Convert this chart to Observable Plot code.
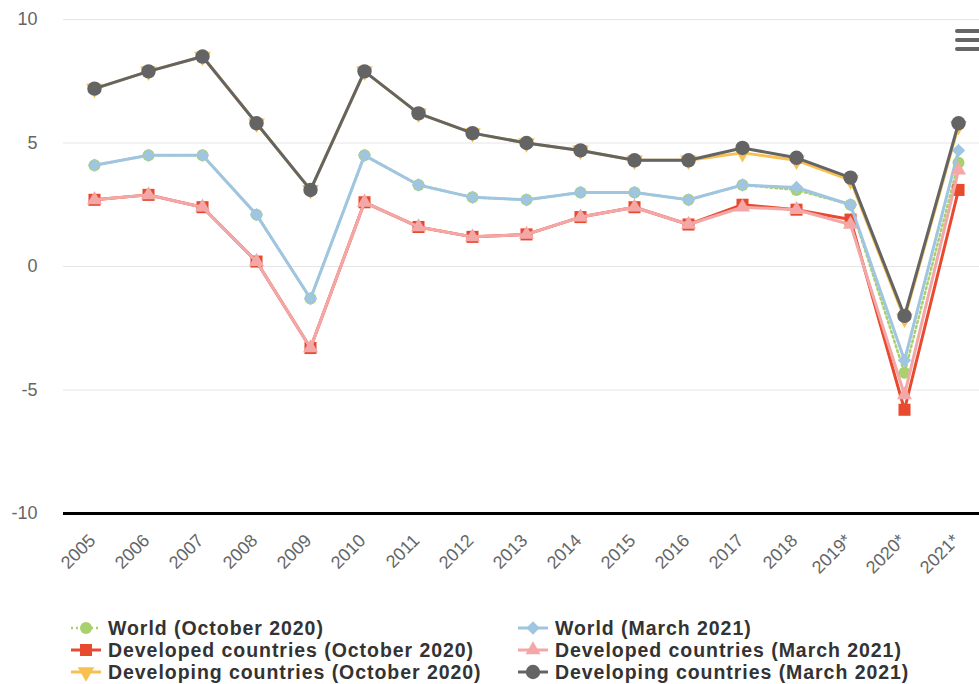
<!DOCTYPE html>
<html>
<head>
<meta charset="utf-8">
<script src="https://cdn.jsdelivr.net/npm/d3@7"></script>
<script src="https://cdn.jsdelivr.net/npm/@observablehq/plot@0.6"></script>
<style>
  html, body { margin: 0; padding: 0; background: #fff; }
  #wrap { position: relative; width: 979px; height: 684px; overflow: hidden; font-family: "Liberation Sans", Arial, sans-serif; }
  #chart { position: absolute; left: 0; top: 0; }
  .leg { position: absolute; height: 22px; line-height: 22px; font-weight: bold; font-size: 19.5px; letter-spacing: 0.95px; color: #333; white-space: nowrap; }
  .leg svg { position: absolute; left: 0; top: 0; }
  .leg span { position: absolute; left: 38px; top: 0; }
  #menu { position: absolute; left: 955px; top: 29px; width: 28px; }
  #menu div { height: 4px; border-radius: 2px; background: #666; margin-bottom: 5px; }
</style>
</head>
<body>
<div id="wrap">
  <div id="chart"></div>
  <div id="legend"></div>
  <div id="menu"><div></div><div></div><div></div></div>
</div>
<script>
// ---- data ----
const years = ["2005","2006","2007","2008","2009","2010","2011","2012","2013","2014","2015","2016","2017","2018","2019*","2020*","2021*"];
const worldOct2020      = [4.1, 4.5, 4.5, 2.1, -1.3, 4.5, 3.3, 2.8, 2.7, 3.0, 3.0, 2.7, 3.3, 3.1, 2.5, -4.3, 4.2];
const developedOct2020  = [2.7, 2.9, 2.4, 0.2, -3.3, 2.6, 1.6, 1.2, 1.3, 2.0, 2.4, 1.7, 2.5, 2.3, 1.9, -5.8, 3.1];
const developingOct2020 = [7.2, 7.9, 8.5, 5.8, 3.1, 7.9, 6.2, 5.4, 5.0, 4.7, 4.3, 4.3, 4.6, 4.3, 3.5, -2.1, 5.7];
const worldMar2021      = [4.1, 4.5, 4.5, 2.1, -1.3, 4.5, 3.3, 2.8, 2.7, 3.0, 3.0, 2.7, 3.3, 3.2, 2.5, -3.8, 4.7];
const developedMar2021  = [2.7, 2.9, 2.4, 0.2, -3.3, 2.6, 1.6, 1.2, 1.3, 2.0, 2.4, 1.7, 2.4, 2.3, 1.7, -5.2, 3.9];
const developingMar2021 = [7.2, 7.9, 8.5, 5.8, 3.1, 7.9, 6.2, 5.4, 5.0, 4.7, 4.3, 4.3, 4.8, 4.4, 3.6, -2.0, 5.8];
const yTicks = [-10, -5, 0, 5, 10];
const seriesNames = [
  "World (October 2020)", "Developed countries (October 2020)", "Developing countries (October 2020)",
  "World (March 2021)", "Developed countries (March 2021)", "Developing countries (March 2021)"
];

// ---- styling ----
const triDown = {
  draw(context, size) {
    const s3 = Math.sqrt(3);
    const y = Math.sqrt(size / (s3 * 3));
    context.moveTo(0, y * 2);
    context.lineTo(-s3 * y, -y);
    context.lineTo(s3 * y, -y);
    context.closePath();
  }
};
const symbolMap = {circle: d3.symbolCircle, square: d3.symbolSquare, triangle: d3.symbolTriangle, diamond2: d3.symbolDiamond2};
const seriesValues = [worldOct2020, developedOct2020, developingOct2020, worldMar2021, developedMar2021, developingMar2021];
const styles = [
  {color: "#a8d06c", width: 2.5, dash: "2,3", symbol: "circle", r: 6},
  {color: "#e84a2f", width: 3, dash: null, symbol: "square", r: 6.8},
  {color: "#f8c050", width: 3, dash: null, symbol: triDown, r: 6.2},
  {color: "#9fc5e0", width: 3, dash: null, symbol: "diamond2", r: 6},
  {color: "#f4a7a7", width: 3, dash: null, symbol: "triangle", r: 5.6},
  {color: "#646464", width: 3, dash: null, symbol: "circle", r: 7.2}
];

const seriesMarks = seriesValues.flatMap((vals, i) => {
  const rows = years.map((year, j) => ({year, value: vals[j]}));
  const st = styles[i];
  return [
    Plot.line(rows, {x: "year", y: "value", stroke: st.color, strokeWidth: st.width, strokeDasharray: st.dash, strokeLinejoin: "round", strokeLinecap: "round"}),
    Plot.dot(rows, {x: "year", y: "value", fill: st.color, r: st.r, symbol: typeof st.symbol === "string" ? symbolMap[st.symbol] : st.symbol})
  ];
});

const chart = Plot.plot({
  width: 979,
  height: 600,
  marginLeft: 63,
  marginRight: 0,
  marginTop: 19,
  marginBottom: 87,
  style: {fontFamily: "'Liberation Sans', Arial, sans-serif", fontSize: "18px", color: "#666", background: "#fff", overflow: "visible"},
  x: {type: "point", domain: years, range: [90, 962], padding: 0, align: 0.5, axis: null},
  y: {domain: [-10, 10], ticks: yTicks, tickSize: 0, tickPadding: 26, tickFormat: d => String(d), label: null},
  marks: [
    Plot.ruleY(yTicks.filter(t => t !== -10), {stroke: "#e6e6e6", strokeWidth: 1}),
    Plot.ruleY([-10], {stroke: "#000", strokeWidth: 3}),
    ...seriesMarks,
    Plot.text(years, {x: d => d, y: () => -10, text: d => d, rotate: -45, textAnchor: "end", lineAnchor: "middle", dx: -2, dy: 24, fontSize: 18, fill: "#666"})
  ]
});
document.getElementById("chart").appendChild(chart);

// ---- legend ----
const legend = document.getElementById("legend");
const legendPos = [[70, 0], [70, 1], [70, 2], [517, 0], [517, 1], [517, 2]];
seriesNames.forEach((name, i) => {
  const st = styles[i];
  const [lx, row] = legendPos[i];
  const cy = 627.5 + row * 22;
  const div = document.createElement("div");
  div.className = "leg";
  div.style.left = lx + "px";
  div.style.top = (cy - 11) + "px";
  const type = typeof st.symbol === "string" ? symbolMap[st.symbol] : st.symbol;
  const sym = d3.symbol(type, st.r * st.r * Math.PI)();
  div.innerHTML =
    `<svg width="32" height="22"><line x1="1" x2="31" y1="11" y2="11" stroke="${st.color}" stroke-width="${st.width}" ${st.dash ? `stroke-dasharray="${st.dash}"` : ""}/>` +
    `<path d="${sym}" transform="translate(16,11)" fill="${st.color}"/></svg><span>${name}</span>`;
  legend.appendChild(div);
});
</script>
</body>
</html>
